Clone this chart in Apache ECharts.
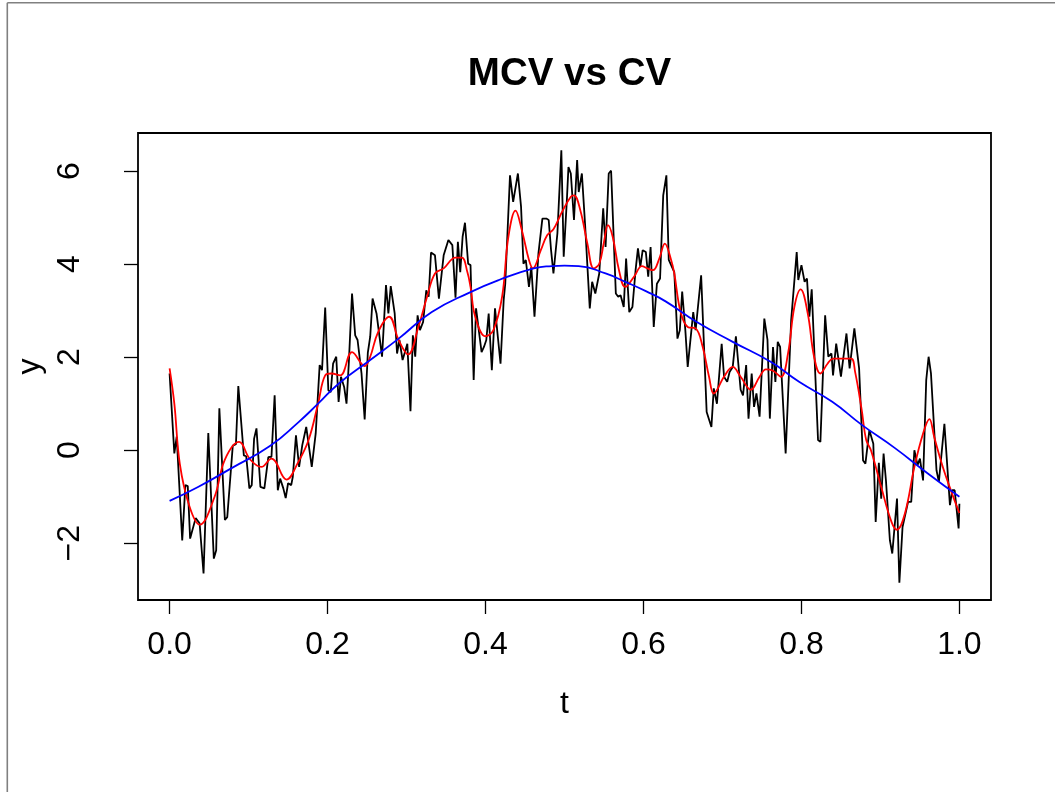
<!DOCTYPE html>
<html>
<head>
<meta charset="utf-8">
<title>MCV vs CV</title>
<script src="https://cdn.jsdelivr.net/npm/echarts@6/dist/echarts.min.js"></script>
<style>
  html, body { margin: 0; padding: 0; background: #fff; }
  #chart { width: 1055px; height: 792px; }
</style>
</head>
<body>
<div id="chart"></div>
<script>
// Noisy observations y(t)
const noisyT = [
  0,0.002,0.006,0.009,0.016,0.020,0.023,0.026,0.033,0.038,
  0.043,0.049,0.056,0.059,0.063,0.070,0.073,0.080,0.084,0.087,
  0.094,0.097,0.101,0.104,0.107,0.110,0.115,0.120,0.125,0.129,
  0.133,0.137,0.140,0.144,0.147,0.150,0.154,0.156,0.160,0.164,
  0.168,0.173,0.180,0.185,0.190,0.193,0.197,0.201,0.204,0.207,
  0.211,0.214,0.217,0.221,0.224,0.227,0.231,0.235,0.238,0.243,
  0.247,0.251,0.254,0.257,0.262,0.269,0.274,0.277,0.280,0.285,
  0.288,0.291,0.295,0.298,0.301,0.305,0.308,0.311,0.314,0.317,
  0.321,0.325,0.328,0.331,0.336,0.341,0.347,0.353,0.358,0.362,
  0.365,0.368,0.371,0.374,0.378,0.381,0.385,0.388,0.395,0.398,
  0.401,0.404,0.408,0.412,0.419,0.423,0.425,0.431,0.435,0.441,
  0.445,0.448,0.451,0.455,0.458,0.462,0.467,0.472,0.477,0.480,
  0.483,0.486,0.491,0.496,0.499,0.503,0.505,0.508,0.512,0.516,
  0.518,0.522,0.526,0.532,0.535,0.539,0.544,0.549,0.552,0.556,
  0.559,0.565,0.568,0.571,0.575,0.578,0.582,0.586,0.590,0.593,
  0.596,0.599,0.603,0.606,0.609,0.613,0.617,0.621,0.625,0.629,
  0.632,0.639,0.643,0.646,0.649,0.653,0.656,0.663,0.666,0.673,
  0.680,0.686,0.689,0.693,0.699,0.702,0.706,0.709,0.713,0.717,
  0.723,0.726,0.730,0.733,0.737,0.740,0.743,0.747,0.753,0.757,
  0.760,0.764,0.767,0.770,0.773,0.780,0.787,0.789,0.794,0.796,
  0.800,0.804,0.807,0.810,0.813,0.821,0.824,0.830,0.834,0.838,
  0.840,0.844,0.850,0.857,0.861,0.867,0.873,0.878,0.881,0.886,
  0.891,0.894,0.898,0.901,0.904,0.907,0.912,0.915,0.921,0.924,
  0.928,0.935,0.939,0.943,0.947,0.950,0.954,0.958,0.961,0.964,
  0.971,0.974,0.981,0.988,0.991,0.994,0.999,1.0
];
const noisyY = [
  1.65,1.68,-0.07,0.29,-1.94,-0.75,-0.77,-1.9,-1.46,-1.57,
  -2.65,0.37,-2.33,-2.15,0.9,-1.5,-1.44,0.1,0.13,1.38,
  -0.11,-0.13,-0.82,-0.75,0.25,0.47,-0.79,-0.82,-0.15,-0.14,
  1.18,-0.86,-0.61,-0.82,-1.03,-0.71,-0.75,-0.57,0.32,-0.36,
  0.11,0.5,-0.36,0.36,1.83,1.72,3.07,1.29,1.25,1.86,
  2.01,1.04,1.58,1.36,1.0,1.9,3.37,2.47,2.37,1.65,
  0.66,2.1,2.44,3.26,2.94,2.01,3.55,2.94,3.53,2.94,
  2.08,2.37,1.94,2.11,2.29,0.84,2.47,2.01,2.9,2.58,
  2.76,3.44,3.3,4.25,4.19,3.26,4.19,4.52,4.41,3.28,
  4.48,3.83,4.59,4.89,4.01,3.98,1.51,3.05,2.11,2.22,
  2.37,2.94,1.72,3.05,1.86,3.23,3.58,5.91,5.34,5.95,
  5.23,4.01,4.09,3.51,3.94,2.87,4.23,4.98,4.98,4.95,
  4.3,3.8,4.66,6.45,4.16,5.38,6.09,5.95,4.95,6.24,
  5.55,5.95,4.87,3.05,3.62,3.37,3.8,5.2,4.37,5.95,
  6.01,3.37,3.3,3.33,3.08,4.12,2.97,3.08,3.87,4.34,
  3.94,4.3,4.26,3.73,4.37,2.65,3.58,3.69,5.48,5.91,
  4.09,3.83,2.4,2.58,3.41,2.58,1.79,2.97,2.58,3.76,
  0.82,0.5,1.33,1.0,2.29,1.58,1.47,1.68,1.79,2.45,
  1.3,1.18,1.83,0.68,1.65,0.93,1.22,0.72,2.83,2.37,
  0.68,2.22,1.47,2.33,2.22,-0.07,2.8,2.8,4.26,3.66,
  3.98,3.62,3.69,2.87,3.46,0.22,0.18,2.9,2.01,2.08,
  1.61,2.29,1.58,2.51,1.76,2.62,1.76,-0.22,-0.29,0.43,
  0.14,-1.54,-0.27,-1.04,-0.07,-0.65,-1.94,-2.22,-1.04,-2.85,
  -1.65,-1.11,-1.11,0,-0.32,-0.18,-0.65,1.51,2.01,1.65,
  -0.43,-0.68,0.57,-1.18,-0.86,-0.86,-1.68,-1.15
];

// MCV fit (red)
const mcvT = [
  0,0.006,0.013,0.025,0.038,0.057,0.070,0.088,0.102,0.116,
  0.129,0.148,0.163,0.176,0.188,0.197,0.205,0.216,0.231,0.247,
  0.254,0.264,0.278,0.290,0.302,0.315,0.326,0.336,0.347,0.362,
  0.370,0.377,0.381,0.387,0.400,0.410,0.421,0.429,0.438,0.446,
  0.455,0.460,0.470,0.478,0.486,0.497,0.508,0.512,0.520,0.529,
  0.537,0.544,0.550,0.555,0.561,0.569,0.577,0.588,0.598,0.605,
  0.612,0.620,0.627,0.635,0.639,0.647,0.656,0.666,0.675,0.683,
  0.689,0.702,0.713,0.723,0.736,0.747,0.755,0.764,0.774,0.783,
  0.791,0.799,0.808,0.816,0.824,0.833,0.840,0.852,0.863,0.868,
  0.876,0.882,0.888,0.901,0.914,0.921,0.931,0.943,0.954,0.962,
  0.968,0.979,0.990,1.0
];
const mcvY = [
  1.76,1.0,-0.3,-1.2,-1.6,-1.0,-0.2,0.18,-0.2,-0.36,
  -0.18,-0.63,-0.25,0.22,1.0,1.61,1.65,1.61,2.11,1.81,
  2.01,2.54,2.87,2.37,2.06,2.65,3.3,3.8,3.91,4.14,
  4.14,3.83,3.51,2.87,2.45,2.58,3.3,4.59,5.15,4.73,
  4.09,3.91,4.3,4.62,4.75,5.13,5.45,5.48,5.16,4.44,
  3.91,4.01,4.48,4.84,4.59,3.87,3.51,3.73,3.96,3.91,
  3.87,4.12,4.44,4.09,3.8,2.97,2.65,2.62,2.22,1.58,
  1.22,1.58,1.79,1.58,1.3,1.58,1.74,1.71,1.58,2.08,
  3.08,3.46,2.94,2.01,1.65,1.86,1.97,1.97,1.97,1.68,
  0.9,0.22,0.0,-0.79,-1.54,-1.71,-1.36,-0.36,0.36,0.67,
  0.29,-0.36,-0.9,-1.35
];

// CV fit (blue)
const cvT = [0,0.036,0.078,0.127,0.163,0.188,0.214,0.254,0.290,0.332,0.381,0.417,0.461,0.484,0.5,
             0.518,0.552,0.577,0.603,0.628,0.667,0.713,0.761,0.797,0.839,0.876,0.918,0.960,1.0];
const cvY = [-1.09,-0.79,-0.39,0.09,0.6,1.0,1.43,1.94,2.4,2.97,3.4,3.66,3.91,3.96,3.97,
             3.96,3.8,3.62,3.42,3.2,2.76,2.33,1.9,1.47,1.04,0.55,0.05,-0.5,-1.0];

// Axis ticks
const xTicks = [0, 0.2, 0.4, 0.6, 0.8, 1.0];
const yTicks = [-2, 0, 2, 4, 6];

const zip = (a, b) => a.map((v, i) => [v, b[i]]);
const FONT = 'Liberation Sans, Arial, Helvetica, sans-serif';

const chart = echarts.init(document.getElementById('chart'), null, { renderer: 'canvas' });
chart.setOption({
  animation: false,
  backgroundColor: '#ffffff',
  title: {
    text: 'MCV vs CV',
    left: 564.5,
    textAlign: 'center',
    top: 50,
    textStyle: { fontFamily: FONT, fontSize: 38.5, fontWeight: 'bold', color: '#000' }
  },
  grid: {
    left: 138, right: 64, top: 133, bottom: 192,
    show: true, borderColor: '#000', borderWidth: 1.8, backgroundColor: 'transparent'
  },
  xAxis: {
    type: 'value',
    min: -0.04, max: 1.04,
    name: 't',
    nameLocation: 'middle',
    nameGap: 88,
    nameTextStyle: { fontFamily: FONT, fontSize: 32, color: '#000' },
    axisLine: { show: false, onZero: false },
    splitLine: { show: false },
    axisTick: { show: true, inside: false, length: 14, customValues: xTicks,
                lineStyle: { color: '#000', width: 1.3 } },
    axisLabel: { customValues: xTicks, margin: 29, fontFamily: FONT, fontSize: 32, color: '#000',
                 formatter: v => v.toFixed(1) }
  },
  yAxis: {
    type: 'value',
    min: -3.22, max: 6.82,
    name: 'y',
    nameLocation: 'middle',
    nameRotate: 90,
    nameGap: 82,
    nameTextStyle: { fontFamily: FONT, fontSize: 32, color: '#000' },
    axisLine: { show: false, onZero: false },
    splitLine: { show: false },
    axisTick: { show: true, inside: false, length: 14, customValues: yTicks,
                lineStyle: { color: '#000', width: 1.3 } },
    axisLabel: { customValues: yTicks, rotate: 90, margin: 52, fontFamily: FONT, fontSize: 32, color: '#000',
                 formatter: v => (v < 0 ? '\u2212' + Math.abs(v) : String(v)) }
  },
  graphic: [
    { type: 'line', silent: true, shape: { x1: 7.3, y1: 2.7, x2: 7.3, y2: 792 },
      style: { stroke: '#808080', lineWidth: 1.6 } },
    { type: 'line', silent: true, shape: { x1: 7.3, y1: 2.7, x2: 1055, y2: 2.7 },
      style: { stroke: '#808080', lineWidth: 1.6 } }
  ],
  series: [
    { name: 'y', type: 'line', data: zip(noisyT, noisyY), showSymbol: false, symbol: 'none',
      lineStyle: { color: '#000', width: 1.8 }, z: 2 },
    { name: 'MCV', type: 'line', data: zip(mcvT, mcvY), showSymbol: false, symbol: 'none', smooth: 0.4,
      lineStyle: { color: '#ff0000', width: 1.8 }, z: 3 },
    { name: 'CV', type: 'line', data: zip(cvT, cvY), showSymbol: false, symbol: 'none', smooth: 0.5,
      lineStyle: { color: '#0000ff', width: 1.8 }, z: 4 }
  ]
});
</script>
</body>
</html>
